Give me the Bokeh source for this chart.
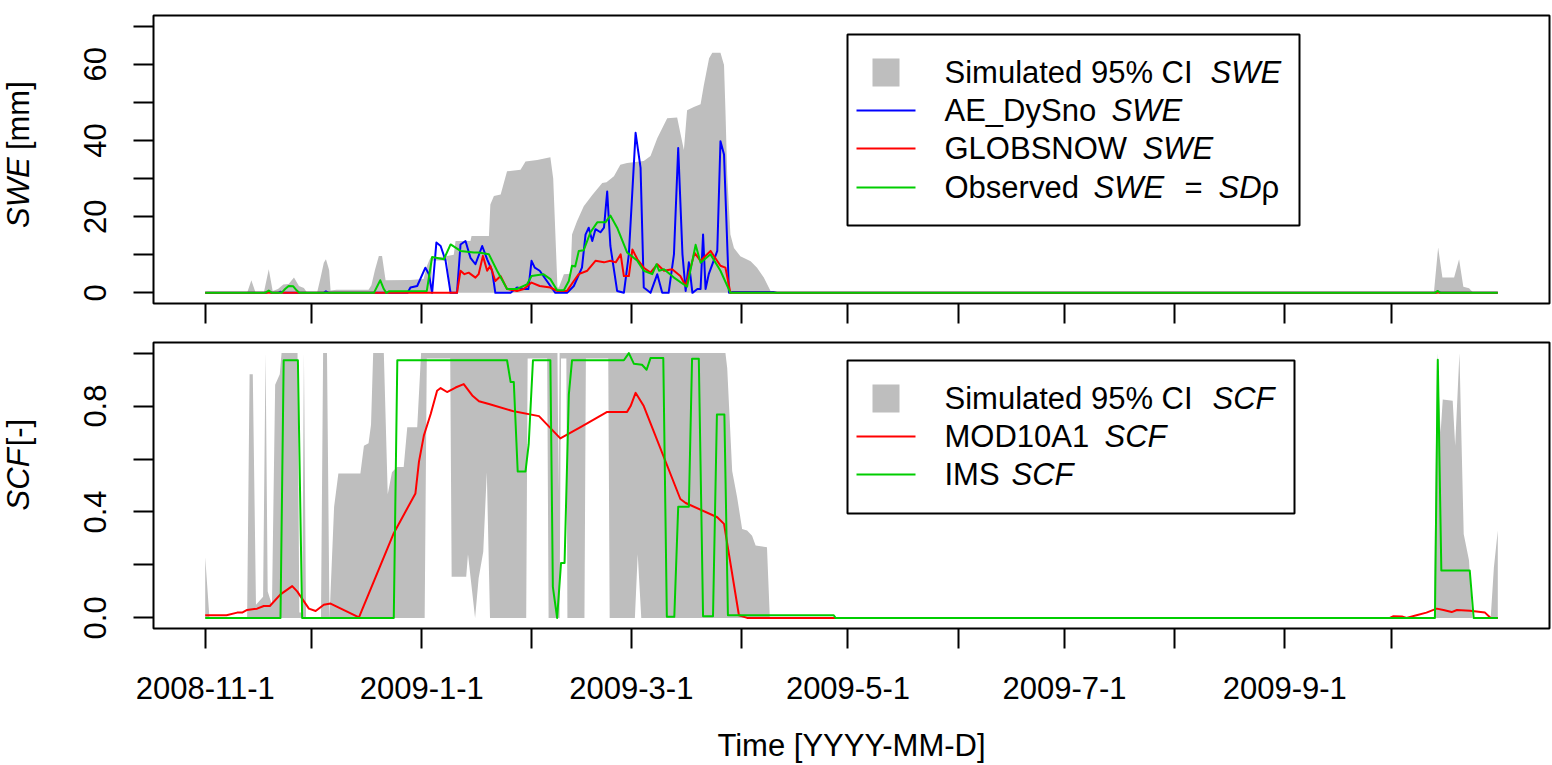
import datetime as dt
from math import pi
from bokeh.plotting import figure
from bokeh.layouts import column, row
from bokeh.models import Range1d, FixedTicker, Label
from bokeh.embed import file_html
from bokeh.resources import INLINE

# ---------------- data (day index counted from START) ----------------
START = "2008-11-1"
N_DAYS = 365
TICK_DATES = ["2008-11-1", "2008-12-1", "2009-1-1", "2009-2-1", "2009-3-1", "2009-4-1",
              "2009-5-1", "2009-6-1", "2009-7-1", "2009-8-1", "2009-9-1", "2009-10-1"]
LABELED_DATES = ["2008-11-1", "2009-1-1", "2009-3-1", "2009-5-1", "2009-7-1", "2009-9-1"]

SWE_TICKS = [0, 10, 20, 30, 40, 50, 60, 70]
SWE_TICK_LABELS = {0: "0", 20: "20", 40: "40", 60: "60"}
SCF_TICKS = [0.0, 0.2, 0.4, 0.6, 0.8, 1.0]
SCF_TICK_LABELS = {0.0: "0.0", 0.4: "0.4", 0.8: "0.8"}

# simulated 95% CI of SWE (upper / lower bound)
SWE_CI_UP_DAY = [0, 11.8, 13.0, 14.2, 16.5, 17.9, 19.0, 20.5, 22.0, 23.5, 25.0, 26.4, 27.8, 28.7,
                 31.5, 32.5, 33.4, 34.0, 34.9, 35.3, 37.0, 46.0, 46.8, 47.8, 48.9, 49.8, 50.8,
                 57.8, 61.5, 62.4, 63.4, 67.0, 70.0, 70.5, 74.7, 75.0, 79.9, 80.3, 81.3, 83.2,
                 85.0, 88.8, 90.2, 93.5, 97.2, 98.0, 99.2, 99.6, 101.0, 102.9, 103.3, 104.7,
                 106.6, 109.0, 111.8, 113.0, 115.1, 116.9, 118.8, 123.5, 125.4, 127.3, 130.1,
                 132.9, 134.8, 135.7, 137.6, 139.5, 140.4, 141.9, 142.8, 145.1, 146.1, 146.5,
                 147.0, 147.9, 148.9, 150.7, 153.6, 155.4, 157.3, 159.2, 159.6, 346.0, 347.2,
                 348.4, 351.7, 353.1, 354.3, 355.9, 357.1, 364]
SWE_CI_UP = [0, 0, 3.3, 0, 0, 6.2, 0.5, 1.0, 2.2, 2.3, 4.0, 1.8, 1.3, 0,
             0, 4.0, 7.9, 8.8, 6.0, 0.6, 0.8, 0.8, 2.0, 6.0, 9.7, 9.7, 3.3,
             3.4, 3.6, 7.0, 9.2, 9.5, 10.0, 13.6, 13.6, 14.9, 14.9, 23.2, 25.4, 25.8,
             31.9, 32.3, 34.5, 34.9, 35.6, 30.0, 1.4, 1.4, 4.9, 5.0, 15.3, 18.8,
             22.7, 25.7, 28.8, 29.0, 30.6, 33.6, 34.1, 34.6, 35.9, 40.6, 45.8,
             46.0, 37.5, 47.9, 48.8, 49.5, 54.4, 61.6, 63.0, 63.0, 59.8, 48.0,
             31.0, 15.3, 11.8, 9.6, 8.3, 6.6, 4.0, 0.5, 0, 0, 11.9,
             4.0, 4.0, 8.8, 1.6, 1.2, 0, 0]
SWE_CI_LO_DAY = [0, 63.5, 64.0, 68.2, 68.8, 364]
SWE_CI_LO = [0, 0, 8.5, 8.5, 0, 0]

# AE_DySno SWE
AE_DAY = [0, 17.2, 17.9, 18.6, 20.5, 21.2, 22.0, 33.3, 34.0, 34.8, 57.0, 57.8, 59.7, 62.0, 63.0,
          63.9, 65.1, 66.3, 67.7, 69.1, 70.9, 71.9, 73.3, 74.7, 76.1, 78.0, 79.4, 80.8, 81.7,
          86.0, 87.8, 89.7, 91.0, 91.9, 92.8, 94.2, 97.2, 98.6, 101.9, 103.8, 106.1, 107.1,
          108.0, 109.0, 109.9, 111.3, 112.3, 113.2, 114.1, 116.0, 117.9, 119.3, 121.2, 122.6,
          123.5, 125.4, 127.3, 128.7, 130.5, 132.0, 133.2, 134.4, 135.3, 136.2, 137.2, 138.6,
          139.5, 140.2, 140.9, 141.8, 144.2, 145.1, 146.1, 147.5, 148.5, 160.0, 161.0, 346.5,
          347.2, 348.0, 364]
AE_SWE = [0, 0, 0.3, 0, 0, 0.3, 0, 0, 0.4, 0, 0, 1.4, 1.8, 6.6, 4.9,
          0, 13.2, 12.3, 8.4, 0, 0, 12.7, 13.6, 9.2, 7.5, 12.3, 8.8, 5.8, 0,
          0, 1.4, 1.0, 1.0, 8.4, 6.6, 5.8, 1.8, 0, 0, 1.8, 6.6, 15.3,
          17.1, 13.6, 16.7, 15.9, 17.1, 26.6, 12.3, 0.5, 0, 10.1, 42.0, 32.8,
          1.4, 0, 4.9, 0, 0, 10.1, 38.0, 10.1, 0.5, 8.0, 0, 1.0,
          1.0, 15.3, 1.0, 4.9, 11.0, 39.8, 36.3, 0, 0.2, 0.2, 0, 0,
          0.3, 0, 0]

# GLOBSNOW SWE
GS_DAY = [0, 70.9, 71.9, 73.0, 74.2, 76.1, 77.0, 78.2, 79.4, 80.3, 81.7, 83.2, 85.0, 87.8, 89.7,
          91.9, 94.2, 97.2, 99.1, 101.9, 103.8, 105.2, 107.6, 109.9, 112.3, 114.1, 115.6, 117.0,
          117.9, 119.3, 120.3, 121.7, 123.5, 125.4, 127.3, 129.2, 131.5, 133.8, 135.3, 137.8,
          139.5, 142.3, 145.1, 146.5, 147.9, 364]
GS_SWE = [0, 0, 5.8, 4.9, 5.3, 4.0, 4.9, 9.7, 5.8, 7.1, 3.1, 4.4, 1.0, 0.5, 1.0,
          2.7, 1.8, 1.4, 0.5, 0.5, 3.1, 4.9, 5.8, 8.4, 8.0, 8.4, 8.0, 10.1,
          4.4, 4.4, 11.4, 8.8, 6.6, 5.3, 7.5, 5.8, 6.2, 4.4, 1.8, 10.5,
          8.4, 11.0, 7.1, 6.6, 0, 0]

# Observed SWE
OBS_DAY = [0, 16.8, 17.9, 18.8, 21.5, 22.5, 23.5, 24.8, 25.8, 26.5, 47.5, 49.3, 50.3, 51.0, 51.7,
           62.4, 63.9, 67.2, 69.1, 71.9, 75.7, 77.0, 79.9, 82.2, 85.0, 87.8, 90.6, 91.9, 95.2,
           97.2, 99.1, 101.0, 102.4, 103.3, 104.2, 105.2, 106.6, 108.5, 110.4, 112.7, 114.1,
           116.0, 118.8, 121.7, 123.5, 125.9, 127.1, 127.8, 129.2, 132.0, 135.7, 138.1, 139.5,
           142.3, 145.1, 147.9, 346.3, 347.0, 347.8, 364]
OBS_SWE = [0, 0, 0.6, 0, 0, 1.0, 1.8, 1.7, 0.6, 0, 0, 3.3, 1.0, 0, 0.4,
           0.5, 9.4, 8.8, 12.7, 11.0, 10.6, 10.6, 10.1, 5.8, 1.0, 1.0, 2.2, 4.4, 4.9,
           3.6, 0.7, 0.7, 3.1, 7.1, 6.9, 11.0, 11.2, 15.9, 18.5, 18.5, 20.3,
           17.1, 10.6, 8.4, 5.8, 4.9, 7.5, 5.8, 6.2, 4.0, 1.6, 12.6, 7.9,
           10.1, 5.8, 0, 0, 0.5, 0, 0]

# simulated 95% CI of SCF
SCF_CI_UP_DAY = [0, 1.2, 11.8, 12.5, 13.4, 14.3, 16.3, 17.0, 17.6, 18.8, 19.7, 21.0, 21.5, 26.0,
                 26.5, 27.3, 27.8, 28.4, 32.6, 33.2, 34.3, 35.0, 36.3, 37.5, 43.7, 44.7, 46.0,
                 46.7, 47.3, 50.3, 51.4, 52.6, 54.0, 55.9, 56.9, 59.7, 60.8, 99.2, 99.5, 99.8,
                 146.5, 147.0, 148.4, 149.8, 151.2, 152.6, 154.0, 155.0, 158.2, 159.0, 346.0,
                 346.9, 347.9, 348.5, 351.3, 352.0, 353.2, 354.4, 355.9, 356.8, 362.0, 362.9, 364.0]
SCF_CI_UP = [0.23, 0, 0, 0.92, 0.92, 0.05, 0.08, 1.0, 0.1, 0.05, 0.88, 0.92, 1.0, 1.0,
             0.02, 0.02, 1.0, 0, 0, 1.0, 1.0, 0, 0.42, 0.545, 0.545, 0.65, 0.66,
             0.73, 1.0, 1.0, 0.467, 0.55, 0.57, 0.57, 0.72, 0.72, 1.0, 1.0, 0.48, 1.0,
             1.0, 0.944, 0.555, 0.455, 0.336, 0.33, 0.31, 0.273, 0.267, 0, 0,
             1.0, 0.7, 0.825, 0.82, 0.65, 1.0, 0.317, 0.217, 0, 0, 0.19, 0.33]
SCF_CI_LO_DAY = [0, 61.8, 62.4, 69.0, 69.4, 73.5, 74.0, 76.0, 77.0, 78.3, 79.3, 80.2, 90.4, 90.8,
                 96.3, 96.7, 99.8, 100.2, 101.7, 102.0, 106.8, 107.2, 113.5, 113.9, 121.0, 121.8,
                 122.8, 364]
SCF_CI_LO = [0, 0, 0.98, 0.98, 0.155, 0.155, 0.24, 0, 0.15, 0.25, 0.55, 0, 0, 0.98,
             0.98, 0, 0, 0.98, 0.98, 0, 0, 0.98, 0.98, 0, 0, 0.24,
             0, 0]

# MOD10A1 SCF
MOD_DAY = [0, 6.0, 9.0, 10.4, 11.8, 14.6, 16.5, 18.2, 21.2, 24.5, 25.9, 29.2, 31.1, 33.4, 35.3,
           43.3, 53.1, 59.2, 60.2, 61.6, 63.5, 65.3, 66.3, 68.1, 70.5, 72.8, 75.2, 77.1, 79.9,
           86.9, 94.0, 100.0, 105.7, 113.2, 118.8, 119.8, 121.2, 123.5, 133.8, 135.3, 144.2,
           146.1, 150.3, 152.6, 333.6, 334.5, 337.0, 338.3, 341.1, 343.9, 346.8, 348.7, 351.0,
           352.5, 356.2, 360.4, 362.0, 364]
MOD_SCF = [0.01, 0.01, 0.02, 0.02, 0.03, 0.035, 0.045, 0.045, 0.089, 0.12, 0.1, 0.035, 0.026, 0.05, 0.054,
           0.002, 0.32, 0.47, 0.59, 0.69, 0.77, 0.858, 0.868, 0.853, 0.87, 0.883, 0.84, 0.818, 0.808,
           0.78, 0.762, 0.678, 0.72, 0.778, 0.778, 0.80, 0.85, 0.80, 0.449, 0.434, 0.38,
           0.355, 0.01, 0.0, 0.0, 0.006, 0.005, 0.0, 0.01, 0.02, 0.035, 0.03, 0.022,
           0.03, 0.027, 0.02, 0.0, 0.0]

# IMS SCF
IMS_DAY = [0, 21.2, 22.1, 26.1, 27.3, 53.1, 54.1, 85.0, 86.0, 86.9, 88.0, 90.2, 91.1, 92.3, 97.2,
           97.9, 99.1, 100.2, 101.2, 102.4, 103.3, 117.9, 119.3, 120.7, 123.0, 124.3, 125.4,
           129.0, 130.0, 132.1, 133.2, 136.2, 137.1, 139.0, 140.2, 143.0, 144.1, 146.2, 147.2,
           177.0, 177.5, 346.3, 347.1, 348.1, 356.1, 357.2, 364]
IMS_SCF = [0, 0, 0.973, 0.973, 0, 0, 0.973, 0.973, 0.891, 0.891, 0.553, 0.553, 0.656, 0.973, 0.973,
           0.117, 0.0, 0.207, 0.207, 0.843, 0.973, 0.973, 1.0, 0.96, 0.956, 0.937, 0.981,
           0.981, 0.004, 0.004, 0.42, 0.42, 0.979, 0.979, 0.006, 0.006, 0.768, 0.768, 0.01,
           0.01, 0.0, 0.0, 0.975, 0.179, 0.179, 0.0, 0.0]

# ---------------- style / layout ----------------
FONT = "Liberation Sans"
FS = "31px"
GRAY = "#BEBEBE"
BLUE = "#0000FF"
RED = "#FF0000"
GREEN = "#00CD00"

W = 1552
WS = 45                      # width of the strip holding the rotated y titles
ML, MR = 153 - WS, 3
H1, MT1, MB1 = 325, 15, 22   # frame 15..303
H2, MT2, MB2 = 397, 17, 94   # frame 342..628
H3 = 42                      # strip holding the x title
YT_X = 18                    # centre column of the rotated y titles

PAD = 0.04 * (N_DAYS - 1)
X0, X1 = -PAD, (N_DAYS - 1) + PAD
SWE_Y = (-2.8, 72.8)
SCF_Y = (-0.04, 1.04)

# reference-frame pixel geometry used to place the legends
REF_FX = (153.0, 1549.0)
REF_TOP = (15.0, 303.0)
REF_BOT = (342.0, 628.0)


def xd(rx):
    return X0 + (rx - REF_FX[0]) / (REF_FX[1] - REF_FX[0]) * (X1 - X0)


def yd(ry, fr, yr):
    return yr[1] - (ry - fr[0]) / (fr[1] - fr[0]) * (yr[1] - yr[0])


def day_of(s):
    y, m, d = map(int, s.split("-"))
    y0, m0, d0 = map(int, START.split("-"))
    return (dt.date(y, m, d) - dt.date(y0, m0, d0)).days


TICK_DAYS = [day_of(s) for s in TICK_DATES]


def make_fig(h, mt, mb, yr):
    p = figure(width=W - WS, height=h, x_range=Range1d(X0, X1), y_range=Range1d(*yr),
               output_backend="svg", toolbar_location=None,
               min_border_left=ML, min_border_right=MR, min_border_top=mt, min_border_bottom=mb)
    p.grid.visible = False
    p.outline_line_color = "black"
    p.outline_line_width = 2
    p.background_fill_color = "white"
    p.border_fill_color = "white"
    for ax in p.axis:
        ax.axis_line_color = None
        ax.major_tick_line_color = "black"
        ax.major_tick_line_width = 2
        ax.major_tick_out = 20
        ax.major_tick_in = 0
        ax.minor_tick_line_color = None
        ax.major_label_text_font = FONT
        ax.major_label_text_font_size = FS
        ax.major_label_text_color = "black"
    p.xaxis.ticker = FixedTicker(ticks=TICK_DAYS)
    p.yaxis.major_label_orientation = "vertical"
    p.yaxis.major_label_standoff = 27
    return p


def strip(w, h):
    s = figure(width=w, height=h, x_range=Range1d(0, w), y_range=Range1d(0, h), title=None,
               output_backend="svg", toolbar_location=None, x_axis_type=None, y_axis_type=None,
               min_border=0, min_border_left=0, min_border_right=0, min_border_top=0,
               min_border_bottom=0)
    s.grid.visible = False
    s.outline_line_color = None
    s.background_fill_color = "white"
    s.border_fill_color = "white"
    return s


def centered_text(s, x, y, text, italic=False, angle=0.0):
    # (x, y): centre of the text in the strip's pixel coordinates (y up)
    s.add_layout(Label(x=x, y=y, text=text, angle=angle, text_align="center",
                       text_baseline="middle", text_font=FONT, text_font_size=FS,
                       text_color="black", text_font_style="italic" if italic else "normal"))


def add_text(p, rx, ry, fr, yr, text, italic=False):
    p.add_layout(Label(x=xd(rx), y=yd(ry, fr, yr), text=text,
                       text_align="left", text_baseline="middle",
                       text_font=FONT, text_font_size=FS, text_color="black",
                       text_font_style="italic" if italic else "normal"))


def band(p, ux, uy, lx, ly):
    xs = list(ux) + list(reversed(lx))
    ys = list(uy) + list(reversed(ly))
    p.patch(xs, ys, fill_color=GRAY, line_color=None)


def legend(p, fr, yr, box, sq, lines, rows):
    p.quad(left=[xd(box[0])], right=[xd(box[1])], top=[yd(box[2], fr, yr)], bottom=[yd(box[3], fr, yr)],
           fill_color="white", line_color="black", line_width=2)
    p.quad(left=[xd(sq[0])], right=[xd(sq[1])], top=[yd(sq[2], fr, yr)], bottom=[yd(sq[3], fr, yr)],
           fill_color=GRAY, line_color=None)
    for ry, col in lines:
        p.segment(x0=[xd(856)], x1=[xd(915)], y0=[yd(ry, fr, yr)], y1=[yd(ry, fr, yr)],
                  line_color=col, line_width=2)
    for ry, parts in rows:
        for text, rx, it in parts:
            add_text(p, rx, ry, fr, yr, text, italic=it)


# ---------------- top panel: SWE ----------------
p1 = make_fig(H1, MT1, MB1, SWE_Y)
p1.xaxis.major_label_overrides = {d: "" for d in TICK_DAYS}
p1.xaxis.major_label_text_font_size = "0px"
p1.xaxis.major_label_standoff = 0
p1.yaxis.ticker = FixedTicker(ticks=SWE_TICKS)
p1.yaxis.major_label_overrides = {t: SWE_TICK_LABELS.get(t, "") for t in SWE_TICKS}

band(p1, SWE_CI_UP_DAY, SWE_CI_UP, SWE_CI_LO_DAY, SWE_CI_LO)
p1.line(AE_DAY, AE_SWE, line_color=BLUE, line_width=2, line_join="round")
p1.line(GS_DAY, GS_SWE, line_color=RED, line_width=2, line_join="round")
p1.line(OBS_DAY, OBS_SWE, line_color=GREEN, line_width=2, line_join="round")

legend(p1, REF_TOP, SWE_Y, (847, 1299, 34, 225), (872, 899, 58, 86),
       [(110, BLUE), (148, RED), (187, GREEN)],
       [(72, [("Simulated 95% CI", 944, False), ("SWE", 1210, True)]),
        (110, [("AE_DySno", 944, False), ("SWE", 1111, True)]),
        (148, [("GLOBSNOW", 944, False), ("SWE", 1142, True)]),
        (187, [("Observed", 944, False), ("SWE", 1093, True), ("=", 1184, False),
               ("SD", 1218, True), ("\u03c1", 1261, False)])])

# y title, rotated; centres given in screen rows of the top panel
s1 = strip(WS, H1)
centered_text(s1, YT_X, H1 - 200, "SWE", italic=True, angle=pi / 2)
centered_text(s1, YT_X, H1 - 113, "[mm]", angle=pi / 2)

# ---------------- bottom panel: SCF ----------------
p2 = make_fig(H2, MT2, MB2, SCF_Y)
p2.xaxis.major_label_overrides = {d: (s if s in LABELED_DATES else "") for d, s in zip(TICK_DAYS, TICK_DATES)}
p2.xaxis.major_label_standoff = 28
p2.yaxis.ticker = FixedTicker(ticks=SCF_TICKS)
p2.yaxis.major_label_overrides = {t: SCF_TICK_LABELS.get(t, "") for t in SCF_TICKS}

band(p2, SCF_CI_UP_DAY, SCF_CI_UP, SCF_CI_LO_DAY, SCF_CI_LO)
p2.line(MOD_DAY, MOD_SCF, line_color=RED, line_width=2, line_join="round")
p2.line(IMS_DAY, IMS_SCF, line_color=GREEN, line_width=2, line_join="round")

legend(p2, REF_BOT, SCF_Y, (847, 1294, 360, 513), (872, 899, 384, 412),
       [(436, RED), (474, GREEN)],
       [(398, [("Simulated 95% CI", 944, False), ("SCF", 1212, True)]),
        (436, [("MOD10A1", 944, False), ("SCF", 1104, True)]),
        (474, [("IMS", 944, False), ("SCF", 1011, True)])])

s2 = strip(WS, H2)
TOP2 = H1 + H2
centered_text(s2, YT_X, TOP2 - 515, "SCF", italic=True, angle=pi / 2)
centered_text(s2, YT_X, TOP2 - 450, "[-]", angle=pi / 2)

# ---------------- x title ----------------
s3 = strip(W, H3)
centered_text(s3, 851, H1 + H2 + H3 - 745, "Time [YYYY-MM-D]")

layout = column(row(s1, p1), row(s2, p2), s3)
open("out.html", "w").write(file_html(layout, INLINE, "SWE and SCF"))
